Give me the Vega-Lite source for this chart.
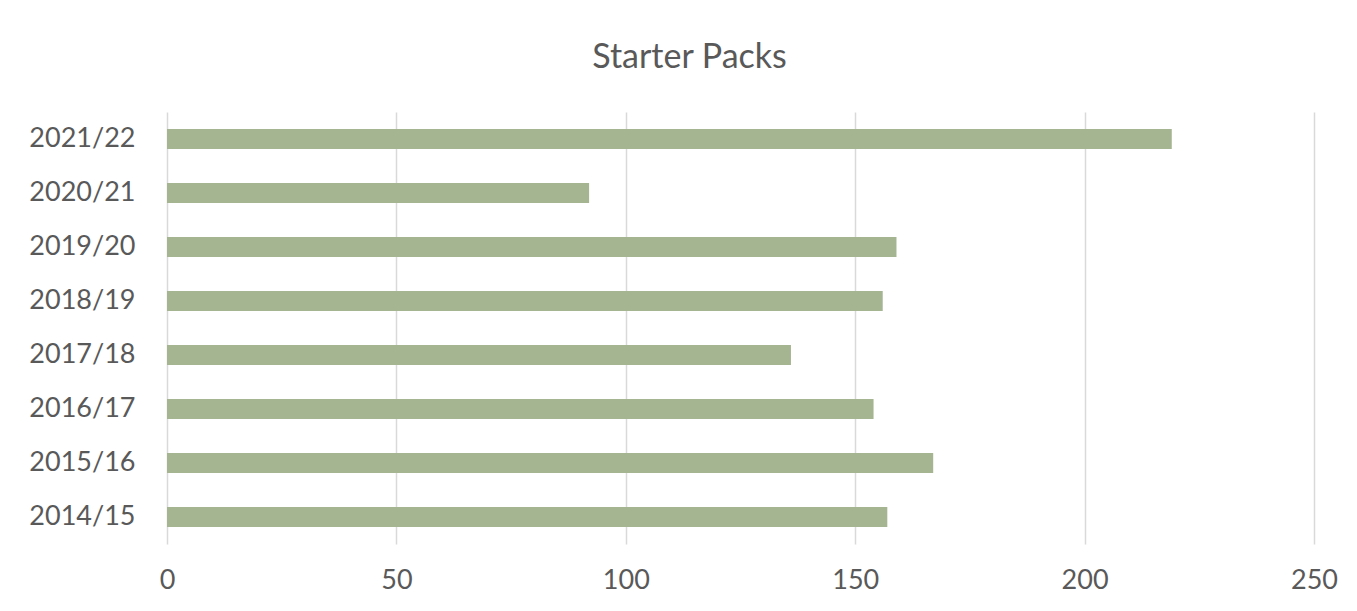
{
  "$schema": "https://vega.github.io/schema/vega-lite/v6.json",
  "autosize": {"type": "none"},
  "width": 1147,
  "height": 432,
  "padding": {"left": 167, "top": 112, "right": 43, "bottom": 67},
  "background": "white",
  "title": {
    "text": "Starter Packs",
    "font": "Lato",
    "fontSize": 34,
    "fontWeight": "normal",
    "color": "#595959",
    "anchor": "middle",
    "dx": -51,
    "offset": 37
  },
  "data": {
    "values": [
      {"year": "2014/15", "value": 157},
      {"year": "2015/16", "value": 167},
      {"year": "2016/17", "value": 154},
      {"year": "2017/18", "value": 136},
      {"year": "2018/19", "value": 156},
      {"year": "2019/20", "value": 159},
      {"year": "2020/21", "value": 92},
      {"year": "2021/22", "value": 219}
    ]
  },
  "mark": {"type": "bar", "color": "#A5B592"},
  "encoding": {
    "y": {
      "field": "year",
      "type": "nominal",
      "sort": "descending",
      "scale": {"paddingInner": 0.63, "paddingOuter": 0.315},
      "axis": {
        "title": null,
        "domain": false,
        "ticks": false,
        "labelFont": "Lato",
        "labelFontSize": 27,
        "labelColor": "#595959",
        "labelPadding": 32
      }
    },
    "x": {
      "field": "value",
      "type": "quantitative",
      "scale": {"domain": [0, 250], "nice": false},
      "axis": {
        "title": null,
        "values": [0, 50, 100, 150, 200, 250],
        "domain": false,
        "ticks": false,
        "grid": true,
        "gridColor": "#d9d9d9",
        "gridWidth": 1.5,
        "labelFlush": false,
        "labelFont": "Lato",
        "labelFontSize": 27,
        "labelColor": "#595959",
        "labelPadding": 23
      }
    }
  },
  "config": {"view": {"stroke": null}}
}
